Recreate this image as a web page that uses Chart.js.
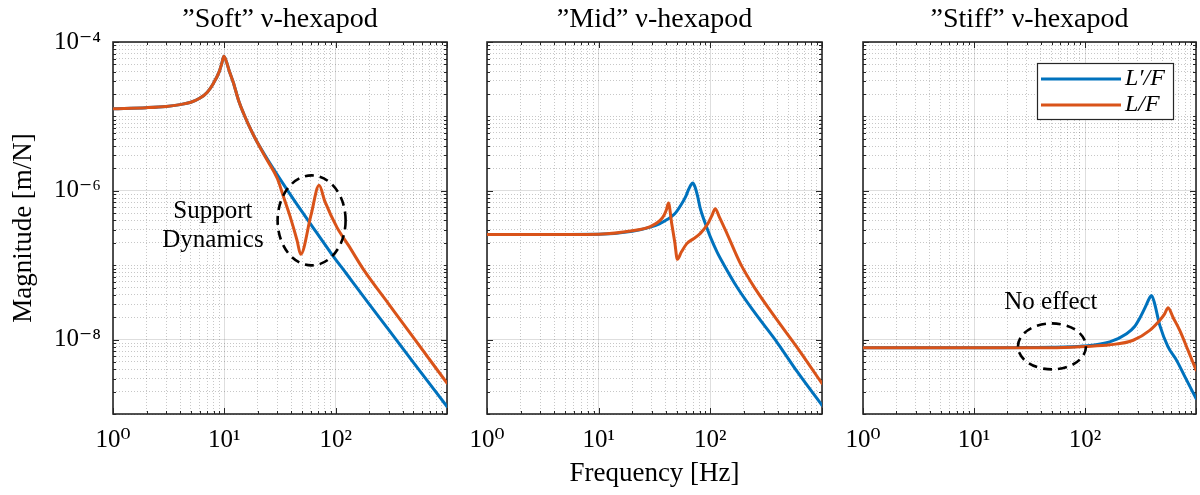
<!DOCTYPE html>
<html>
<head>
<meta charset="utf-8">
<script src="https://cdn.jsdelivr.net/npm/chart.js@4.4.0/dist/chart.umd.min.js"></script>
<style>
  html, body { margin: 0; padding: 0; background: #fff; overflow: hidden; }
  #wrap { position: relative; width: 1200px; height: 495px; overflow: hidden; }
  #wrap canvas { position: absolute; left: 0; top: 0; }
</style>
</head>
<body>
<div id="wrap">
  <canvas id="soft" width="1220" height="495"></canvas>
  <canvas id="mid" width="1220" height="495"></canvas>
  <canvas id="stiff" width="1220" height="495"></canvas>
</div>
<script>
// titles and legend labels
const panelTitles = ['\u201dSoft\u201d \u03bd-hexapod', '\u201dMid\u201d \u03bd-hexapod', '\u201dStiff\u201d \u03bd-hexapod'];
const seriesLabels = ['L\u2032/F', 'L/F'];

// tick labels
const xTickValues = [1, 10, 100];
const xTickLabels = ['10\u2070', '10\u00b9', '10\u00b2'];
const yTickValues = [1e-8, 1e-6, 1e-4];
const yTickLabels = ['10\u207b\u2078', '10\u207b\u2076', '10\u207b\u2074'];

// "Soft" hexapod
const softFreqLp = [1, 2, 3, 4, 5, 6, 7, 8, 9, 9.5, 9.9, 10.5, 11, 12, 13.5, 15, 17, 19, 24, 32, 42, 60, 90, 125, 200, 300, 500, 1000];
const softMagLp = [1.27e-5, 1.31e-5, 1.36e-5, 1.44e-5, 1.55e-5, 1.75e-5, 2.1e-5, 2.8e-5, 4.0e-5, 5.2e-5, 6.45e-5, 5.3e-5, 4.2e-5, 2.9e-5, 1.6e-5, 1.07e-5, 7.0e-6, 5.0e-6, 2.75e-6, 1.4e-6, 7.6e-7, 3.52e-7, 1.48e-7, 7.67e-8, 3.0e-8, 1.35e-8, 4.9e-9, 1.26e-9];
const softFreqL = [1, 2, 3, 4, 5, 6, 7, 8, 9, 9.5, 9.9, 10.5, 11, 12, 13.5, 15, 17, 19, 24, 30, 34, 39, 45, 48.5, 60, 71, 80, 103, 130, 180, 300, 500, 1000];
const softMagL = [1.27e-5, 1.31e-5, 1.36e-5, 1.44e-5, 1.55e-5, 1.75e-5, 2.1e-5, 2.8e-5, 4.0e-5, 5.2e-5, 6.45e-5, 5.3e-5, 4.2e-5, 2.9e-5, 1.6e-5, 1.07e-5, 7.0e-6, 5.0e-6, 2.65e-6, 1.45e-6, 8.3e-7, 4.5e-7, 2.16e-7, 1.4e-7, 4.7e-7, 1.19e-6, 7.2e-7, 3.2e-7, 1.86e-7, 8.5e-8, 3.0e-8, 1.06e-8, 2.6e-9];

// "Mid" hexapod
const midFreqLp = [1, 5, 10, 20, 29, 35, 41, 48, 54, 60, 64, 67, 69.8, 73, 77, 81, 90, 100, 115, 131, 173, 250, 400, 600, 1000];
const midMagLp = [2.58e-7, 2.59e-7, 2.6e-7, 2.85e-7, 3.25e-7, 3.6e-7, 4.1e-7, 4.9e-7, 6.3e-7, 8.3e-7, 1.05e-6, 1.2e-6, 1.27e-6, 1.12e-6, 8.4e-7, 5.9e-7, 3.65e-7, 2.4e-7, 1.5e-7, 1.04e-7, 5.1e-8, 2.3e-8, 9.0e-9, 3.7e-9, 1.31e-9];
const midFreqL = [1, 5, 10, 20, 29, 35.5, 38.5, 40.5, 42.2, 45, 48, 50.7, 55, 61.6, 70, 81, 95, 103, 110.7, 120, 141, 186, 253, 400, 600, 1000];
const midMagL = [2.58e-7, 2.59e-7, 2.61e-7, 2.9e-7, 3.3e-7, 4.0e-7, 4.7e-7, 5.6e-7, 6.85e-7, 3.7e-7, 2.05e-7, 1.2e-7, 1.5e-7, 1.95e-7, 2.25e-7, 2.66e-7, 3.6e-7, 4.6e-7, 5.75e-7, 4.5e-7, 2.66e-7, 1.05e-7, 4.8e-8, 1.8e-8, 7.8e-9, 2.57e-9];

// "Stiff" hexapod
const stiffFreqLp = [1, 10, 50, 96, 167, 237, 280, 312, 350, 380, 397, 420, 472, 560, 667, 800, 1000];
const stiffMagLp = [7.8e-9, 7.8e-9, 7.9e-9, 8.2e-9, 9.3e-9, 1.2e-8, 1.5e-8, 1.95e-8, 2.75e-8, 3.6e-8, 3.93e-8, 3.2e-8, 1.55e-8, 8.0e-9, 5.3e-9, 3.1e-9, 1.62e-9];
const stiffFreqL = [1, 10, 50, 100, 167, 272, 383, 472, 520, 561, 620, 714, 850, 1000];
const stiffMagL = [7.8e-9, 7.8e-9, 7.8e-9, 8.1e-9, 8.5e-9, 9.8e-9, 1.33e-8, 1.82e-8, 2.2e-8, 2.69e-8, 2.0e-8, 1.33e-8, 7.1e-9, 3.9e-9];

const blue = '#0072BD';
const orange = '#D95319';
const serif = "'Liberation Serif', 'DejaVu Serif', serif";

function pts(f, m) {
    return f.map((v, i) => ({ x: v, y: m[i] }));
}

function decadeTicks(lo, hi) {
    const out = [];
    for (let e = lo; e < hi; e++) {
        for (let k = 1; k < 10; k++) out.push({ value: k * Math.pow(10, e) });
    }
    out.push({ value: Math.pow(10, hi) });
    return out;
}

function isDecade(v) {
    const l = Math.log10(v);
    return Math.abs(l - Math.round(l)) < 1e-6;
}

function findLabel(vals, labels, v) {
    const i = vals.findIndex(t => Math.abs(t - v) / t < 1e-6);
    return i >= 0 ? labels[i] : '';
}

// box, inward ticks, notes and legend, drawn like the matlab axes
const frame = {
    id: 'frame',
    beforeDatasetsDraw(chart) {
        const { ctx, chartArea: a, scales: { x, y } } = chart;
        ctx.save();
        ctx.strokeStyle = '#262626';
        ctx.lineWidth = 1;
        ctx.beginPath();
        x.ticks.forEach(t => {
            const px = Math.round(x.getPixelForValue(t.value)) + 0.5;
            const len = isDecade(t.value) ? 6 : 3;
            ctx.moveTo(px, a.bottom); ctx.lineTo(px, a.bottom - len);
            ctx.moveTo(px, a.top); ctx.lineTo(px, a.top + len);
        });
        y.ticks.forEach(t => {
            const py = Math.round(y.getPixelForValue(t.value)) + 0.5;
            const len = findLabel(yTickValues, yTickLabels, t.value) ? 6 : 3;
            ctx.moveTo(a.left, py); ctx.lineTo(a.left + len, py);
            ctx.moveTo(a.right, py); ctx.lineTo(a.right - len, py);
        });
        ctx.stroke();
        ctx.lineWidth = 1.6;
        ctx.strokeRect(a.left, a.top, a.width, a.height);
        ctx.restore();
    },
    afterDatasetsDraw(chart, args, opts) {
        const { ctx, chartArea: a, scales: { x, y } } = chart;
        ctx.save();
        (opts.notes || []).forEach(n => {
            const cx = x.getPixelForValue(n.at[0]);
            const cy = y.getPixelForValue(n.at[1]);
            if (n.text) {
                ctx.fillStyle = '#000';
                ctx.font = '25px ' + serif;
                ctx.textAlign = 'center';
                ctx.textBaseline = 'middle';
                ctx.fillText(n.text, cx, cy);
            } else {
                ctx.strokeStyle = '#000';
                ctx.lineWidth = 2.6;
                ctx.setLineDash([9, 6]);
                ctx.beginPath();
                ctx.ellipse(cx, cy, n.rx, n.ry, 0, 0, Math.PI * 2);
                ctx.stroke();
                ctx.setLineDash([]);
            }
        });
        if (opts.legend) {
            const w = 136, h = 56;
            const bx = a.right - 23 - w, by = a.top + 21;
            ctx.fillStyle = '#fff';
            ctx.fillRect(bx, by, w, h);
            ctx.strokeStyle = '#262626';
            ctx.lineWidth = 1.2;
            ctx.strokeRect(bx + 0.5, by + 0.5, w, h);
            chart.data.datasets.forEach((ds, i) => {
                const ly = by + 16 + i * 26;
                ctx.strokeStyle = ds.borderColor;
                ctx.lineWidth = 3;
                ctx.beginPath();
                ctx.moveTo(bx + 4, ly);
                ctx.lineTo(bx + 84, ly);
                ctx.stroke();
                ctx.fillStyle = '#000';
                ctx.font = 'italic 24px ' + serif;
                ctx.textAlign = 'left';
                ctx.textBaseline = 'middle';
                ctx.fillText(ds.label, bx + 88, ly);
            });
        }
        ctx.restore();
    }
};

function makePanel(id, idx, area, series, extra) {
    const yAxisWidth = idx === 0 ? 113 : 0;
    return new Chart(document.getElementById(id), {
        type: 'line',
        data: {
            datasets: [
                { label: seriesLabels[0], data: pts(series[0], series[1]), borderColor: blue, order: 1 },
                { label: seriesLabels[1], data: pts(series[2], series[3]), borderColor: orange, order: 0 }
            ]
        },
        options: {
            responsive: false,
            animation: false,
            devicePixelRatio: 1,
            events: [],
            layout: { padding: { left: area[0] - yAxisWidth, right: 1220 - area[1], top: 0, bottom: 0 } },
            elements: {
                point: { radius: 0 },
                line: { borderWidth: 3, cubicInterpolationMode: 'monotone', borderCapStyle: 'round', borderJoinStyle: 'round' }
            },
            plugins: {
                legend: { display: false },
                tooltip: { enabled: false },
                title: {
                    display: true,
                    text: panelTitles[idx],
                    fullSize: false,
                    color: '#000',
                    font: { family: serif, size: 28, weight: 'normal', lineHeight: 1.2 },
                    padding: { top: 3, bottom: 5.4 }
                },
                frame: extra
            },
            scales: {
                x: {
                    type: 'logarithmic',
                    min: 1,
                    max: 1000,
                    afterBuildTicks: s => { s.ticks = decadeTicks(0, 3); },
                    afterFit: s => { s.height = 81; },
                    ticks: {
                        autoSkip: false,
                        maxRotation: 0,
                        padding: 11,
                        color: '#000',
                        font: { family: serif, size: 25 },
                        callback: v => findLabel(xTickValues, xTickLabels, v)
                    },
                    grid: {
                        drawTicks: false,
                        color: c => isDecade(c.tick.value) ? 'rgba(0,0,0,0.13)' : 'rgba(0,0,0,0.22)',
                        lineWidth: 1
                    },
                    border: { display: false, dash: c => isDecade(c.tick.value) ? [] : [1, 2] },
                    title: {
                        display: idx === 1,
                        text: 'Frequency [Hz]',
                        color: '#000',
                        font: { family: serif, size: 27 },
                        padding: { top: 0, bottom: 5 }
                    }
                },
                y: {
                    type: 'logarithmic',
                    min: 1e-9,
                    max: 1e-4,
                    afterBuildTicks: s => { s.ticks = decadeTicks(-9, -4); },
                    afterFit: s => { s.width = yAxisWidth; },
                    ticks: {
                        autoSkip: false,
                        padding: 12,
                        color: '#000',
                        font: { family: serif, size: 25 },
                        callback: v => idx === 0 ? findLabel(yTickValues, yTickLabels, v) : ''
                    },
                    grid: {
                        drawTicks: false,
                        color: c => findLabel(yTickValues, yTickLabels, c.tick.value) ? 'rgba(0,0,0,0.13)' : 'rgba(0,0,0,0.22)',
                        lineWidth: 1
                    },
                    border: { display: false, dash: c => findLabel(yTickValues, yTickLabels, c.tick.value) ? [] : [1, 2] },
                    title: {
                        display: idx === 0,
                        text: 'Magnitude [m/N]',
                        color: '#000',
                        font: { family: serif, size: 27 },
                        padding: { top: 8, bottom: 0 }
                    }
                }
            }
        },
        plugins: [frame]
    });
}

makePanel('soft', 0, [113, 447], [softFreqLp, softMagLp, softFreqL, softMagL], {
    notes: [
        { text: 'Support', at: [7.9, 5.3e-7] },
        { text: 'Dynamics', at: [7.9, 2.16e-7] },
        { at: [60.8, 4.0e-7], rx: 34, ry: 45 }
    ]
});
makePanel('mid', 1, [487, 822], [midFreqLp, midMagLp, midFreqL, midMagL], {});
makePanel('stiff', 2, [863, 1196], [stiffFreqLp, stiffMagLp, stiffFreqL, stiffMagL], {
    legend: true,
    notes: [
        { text: 'No effect', at: [49.3, 3.17e-8] },
        { at: [50.4, 8.1e-9], rx: 34, ry: 23 }
    ]
});
</script>
</body>
</html>
